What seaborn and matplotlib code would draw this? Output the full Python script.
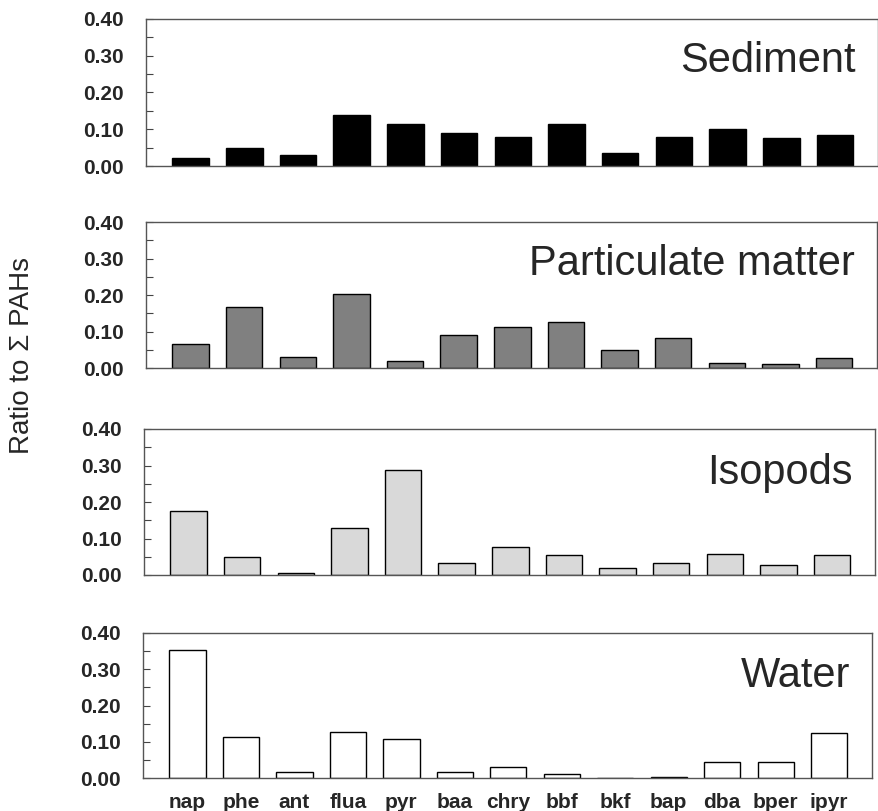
import matplotlib
matplotlib.use("Agg")
import matplotlib.pyplot as plt
import seaborn as sns
import pandas as pd
from matplotlib.ticker import MultipleLocator, FormatStrFormatter

compounds = ["nap", "phe", "ant", "flua", "pyr", "baa", "chry", "bbf", "bkf", "bap", "dba", "bper", "ipyr"]
sediment = [0.022, 0.049, 0.030, 0.139, 0.114, 0.090, 0.078, 0.115, 0.035, 0.079, 0.100, 0.075, 0.084]
particulate = [0.065, 0.168, 0.031, 0.204, 0.020, 0.090, 0.113, 0.125, 0.048, 0.082, 0.013, 0.010, 0.028]
isopods = [0.175, 0.048, 0.005, 0.128, 0.288, 0.032, 0.078, 0.055, 0.018, 0.032, 0.057, 0.027, 0.055]
water = [0.354, 0.113, 0.017, 0.128, 0.108, 0.017, 0.030, 0.012, 0.001, 0.003, 0.045, 0.044, 0.124]
panel_titles = ["Sediment", "Particulate matter", "Isopods", "Water"]
y_ticks = [0.0, 0.1, 0.2, 0.3, 0.4]
y_label = "Ratio to \u03a3 PAHs"

sns.set_style("white")
fam = ["Liberation Sans Narrow", "Liberation Sans", "DejaVu Sans"]
plt.rcParams["font.family"] = fam

W, H = 879, 811
fig = plt.figure(figsize=(W / 100, H / 100), dpi=100)

# (left, right, top, bottom) in pixels
boxes = [(146, 878, 19, 166), (146, 877, 222, 368), (144, 875, 429, 575), (143, 872, 633, 778)]
series = [sediment, particulate, isopods, water]
colors = ["#000000", "#808080", "#d9d9d9", "#ffffff"]
title_y = [0.64, 0.64, 0.62, 0.63]

for i, (vals, col, title, (l, r, t, b)) in enumerate(zip(series, colors, panel_titles, boxes)):
    ax = fig.add_axes([l / W, 1 - b / H, (r - l) / W, (b - t) / H])
    df = pd.DataFrame({"compound": compounds, "ratio": vals})
    sns.barplot(data=df, x="compound", y="ratio", color=col, edgecolor="black",
                linewidth=1.0, width=0.68, saturation=1, ax=ax)
    ax.set_xlim(-0.83, 12.8)
    ax.set_ylim(0, 0.40)
    ax.set_yticks(y_ticks)
    ax.yaxis.set_major_formatter(FormatStrFormatter("%.2f"))
    ax.yaxis.set_minor_locator(MultipleLocator(0.05))
    ax.tick_params(axis="y", which="both", direction="in", length=5, width=0.8,
                   color="#444444", left=True, labelsize=15, pad=16)
    for lab in ax.get_yticklabels():
        lab.set_fontweight("bold")
    ax.set_ylabel("")
    ax.set_xlabel("")
    for s in ax.spines.values():
        s.set_visible(True)
        s.set_color("#555555")
        s.set_linewidth(1.0)
    if i == 3:
        ax.tick_params(axis="x", which="both", bottom=False, labelsize=15, pad=7)
        for lab in ax.get_xticklabels():
            lab.set_fontweight("bold")
    else:
        ax.set_xticks(range(len(compounds)))
        ax.set_xticklabels([])
        ax.tick_params(axis="x", bottom=False)
    ax.text(0.97, title_y[i], title, transform=ax.transAxes, ha="right", va="baseline",
            fontsize=30)

fig.text(22 / W, 1 - 355 / H, y_label, rotation=90, ha="center", va="center",
         fontsize=20, family=["Liberation Sans", "DejaVu Sans"])

fig.savefig("out.png", dpi=100)
